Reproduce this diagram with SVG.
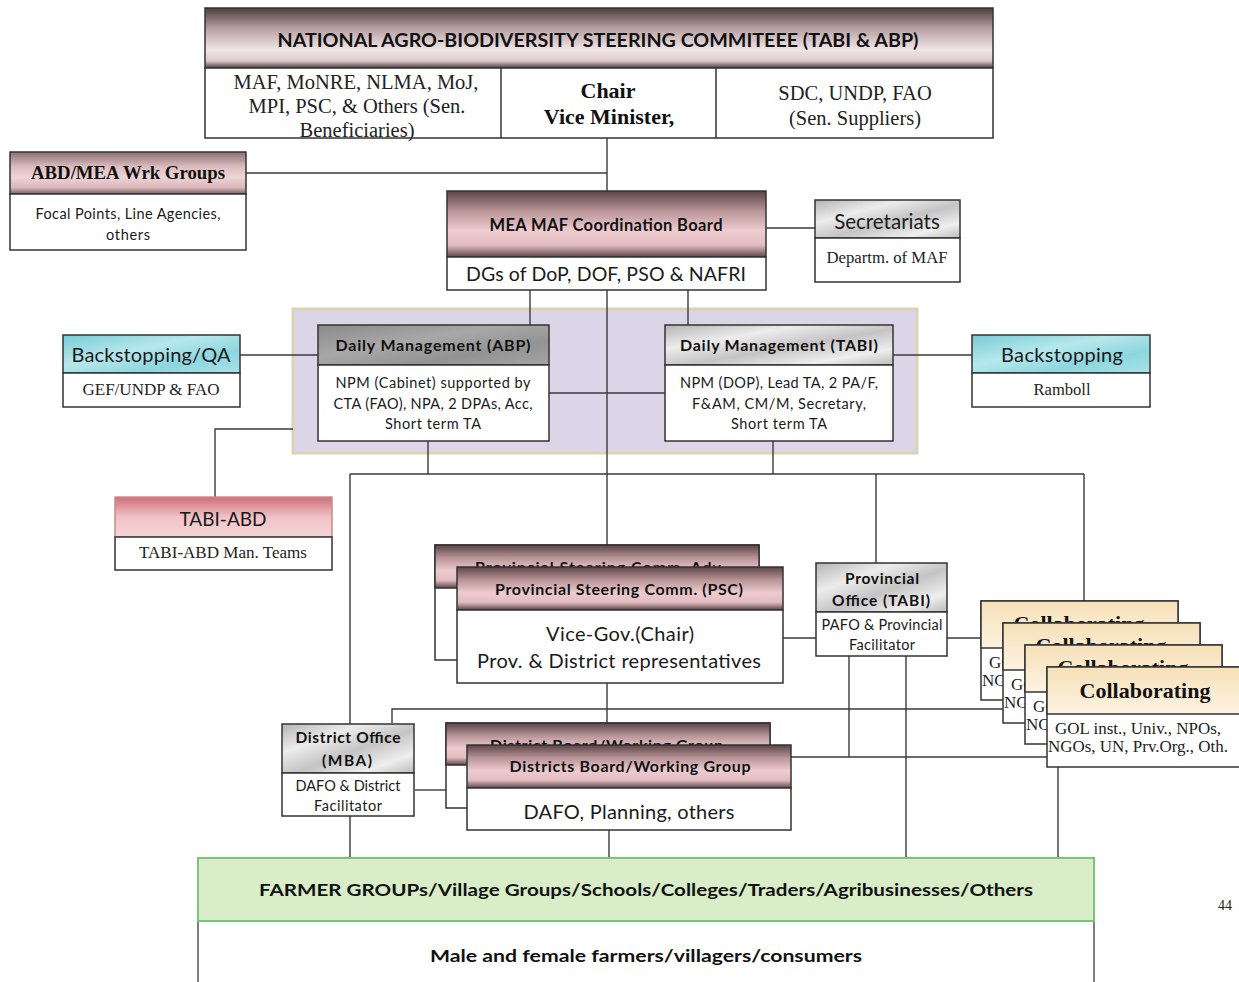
<svg xmlns="http://www.w3.org/2000/svg" width="1239" height="982" viewBox="0 0 1239 982">
<defs>
<linearGradient id="gNat" x1="0" y1="0" x2="0" y2="1">
<stop offset="0" stop-color="#4e3e40"/><stop offset="0.35" stop-color="#b8a2a4"/><stop offset="0.7" stop-color="#f2e6e8"/><stop offset="0.88" stop-color="#dccacc"/><stop offset="1" stop-color="#4e3e40"/>
</linearGradient>
<linearGradient id="gPink" x1="0" y1="0" x2="0" y2="1">
<stop offset="0" stop-color="#5c4446"/><stop offset="0.3" stop-color="#b89496"/><stop offset="0.6" stop-color="#edcbcf"/><stop offset="0.82" stop-color="#e2bcc0"/><stop offset="1" stop-color="#5e4648"/>
</linearGradient>
<linearGradient id="gPinkL" x1="0" y1="0" x2="0" y2="1">
<stop offset="0" stop-color="#8a7072"/><stop offset="0.35" stop-color="#dcbcbf"/><stop offset="0.6" stop-color="#efd3d6"/><stop offset="0.85" stop-color="#d9b6b9"/><stop offset="1" stop-color="#7a6264"/>
</linearGradient>
<linearGradient id="gTA" x1="0" y1="0" x2="0" y2="1">
<stop offset="0" stop-color="#cf6e78"/><stop offset="0.5" stop-color="#efc2c6"/><stop offset="1" stop-color="#f4d6d8"/>
</linearGradient>
<linearGradient id="gMarble" x1="0" y1="0" x2="1" y2="1">
<stop offset="0" stop-color="#b4b4b4"/><stop offset="0.3" stop-color="#ececec"/><stop offset="0.55" stop-color="#c4c4c4"/><stop offset="0.8" stop-color="#eeeeee"/><stop offset="1" stop-color="#bcbcbc"/>
</linearGradient>
<linearGradient id="gMarbleD" x1="0" y1="0" x2="1" y2="1">
<stop offset="0" stop-color="#8a8a8a"/><stop offset="0.4" stop-color="#a8a8a8"/><stop offset="0.7" stop-color="#939393"/><stop offset="1" stop-color="#a4a4a4"/>
</linearGradient>
<linearGradient id="gCyan" x1="0" y1="0" x2="1" y2="1">
<stop offset="0" stop-color="#78ccd6"/><stop offset="0.4" stop-color="#b6e8ec"/><stop offset="0.7" stop-color="#8ed6de"/><stop offset="1" stop-color="#a8e2e8"/>
</linearGradient>
<linearGradient id="gCol" x1="0" y1="0" x2="0" y2="1">
<stop offset="0" stop-color="#f6e0b8"/><stop offset="1" stop-color="#fdf3e2"/>
</linearGradient>
<clipPath id="cpC1"><rect x="981" y="601" width="197" height="22"/><rect x="981" y="601" width="22" height="99"/></clipPath>
<clipPath id="cpC2"><rect x="1003" y="623" width="197" height="22"/><rect x="1003" y="623" width="22" height="100"/></clipPath>
<clipPath id="cpC3"><rect x="1025" y="645" width="197" height="22"/><rect x="1025" y="645" width="22" height="99"/></clipPath>
<clipPath id="cpPSC"><rect x="435" y="545" width="324" height="22"/></clipPath>
<clipPath id="cpDB"><rect x="446" y="723" width="324" height="22"/></clipPath>
</defs>
<style>
.b{stroke:#333;stroke-width:1.5}
.w{fill:#fff;stroke:#333;stroke-width:1.5}
.c line,.c polyline{stroke:#3a3a3a;stroke-width:1.4;fill:none}
.s{font-family:Lato,"Liberation Sans",sans-serif;fill:#1a1a1a;text-anchor:middle}
.sb{font-family:Lato,"Liberation Sans",sans-serif;font-weight:bold;fill:#111;text-anchor:middle}
.r{font-family:"Liberation Serif",serif;fill:#222;text-anchor:middle}
.rb{font-family:"Liberation Serif",serif;font-weight:bold;fill:#111;text-anchor:middle}
.cl{font-family:"Liberation Serif",serif;fill:#222;font-size:16px}
</style>

<rect id="zone" x="293" y="309" width="624" height="144" fill="#dcd5e7" stroke="#d9d4b4" stroke-width="3"/>

<g id="connectors" class="c">
<line x1="607" y1="138" x2="607" y2="545"/>
<line x1="246" y1="173" x2="607" y2="173"/>
<line x1="766" y1="228" x2="815" y2="228"/>
<line x1="530" y1="290" x2="530" y2="325"/>
<line x1="688" y1="290" x2="688" y2="325"/>
<line x1="240" y1="355" x2="318" y2="355"/>
<line x1="893" y1="355" x2="972" y2="355"/>
<line x1="549" y1="393" x2="665" y2="393"/>
<polyline points="293,429 215,429 215,497"/>
<line x1="428" y1="441" x2="428" y2="474"/>
<line x1="773" y1="441" x2="773" y2="474"/>
<line x1="350" y1="474" x2="1084" y2="474"/>
<line x1="350" y1="474" x2="350" y2="858"/>
<line x1="876" y1="474" x2="876" y2="563"/>
<line x1="1084" y1="474" x2="1084" y2="601"/>
<line x1="783" y1="638" x2="816" y2="638"/>
<line x1="947" y1="638" x2="981" y2="638"/>
<line x1="607" y1="683" x2="607" y2="723"/>
<polyline points="392,723 392,709 1010,709"/>
<line x1="849" y1="656" x2="849" y2="757"/>
<line x1="906" y1="656" x2="906" y2="858"/>
<line x1="791" y1="757" x2="1047" y2="757"/>
<line x1="415" y1="790" x2="446" y2="790"/>
<line x1="609" y1="830" x2="609" y2="858"/>
<line x1="1058" y1="767" x2="1058" y2="858"/>
</g>

<g id="national">
<rect x="205" y="8" width="788" height="60" fill="url(#gNat)" class="b"/>
<text x="598" y="47" class="sb" font-size="18" textLength="641" lengthAdjust="spacingAndGlyphs">NATIONAL AGRO-BIODIVERSITY STEERING COMMITEEE (TABI &amp; ABP)</text>
<rect x="205" y="68" width="788" height="70" fill="#fff"/>
<text x="356" y="89" class="r" font-size="20.5">MAF, MoNRE, NLMA, MoJ,</text>
<text x="357" y="113" class="r" font-size="20.5">MPI, PSC, &amp; Others (Sen.</text>
<text x="357" y="137" class="r" font-size="20.5">Beneficiaries)</text>
<text x="608" y="98" class="rb" font-size="22">Chair</text>
<text x="609" y="124" class="rb" font-size="22">Vice Minister,</text>
<text x="855" y="100" class="r" font-size="20.5">SDC, UNDP, FAO</text>
<text x="855" y="125" class="r" font-size="20.5">(Sen. Suppliers)</text>
<rect x="205" y="68" width="788" height="70" fill="none" class="b"/>
<line x1="501" y1="68" x2="501" y2="138" class="b"/>
<line x1="716" y1="68" x2="716" y2="138" class="b"/>
</g>

<g id="abdmea">
<rect x="10" y="152" width="236" height="42" fill="url(#gPinkL)" class="b"/>
<text x="128" y="179" class="rb" font-size="18" textLength="194" lengthAdjust="spacingAndGlyphs">ABD/MEA Wrk Groups</text>
<rect x="10" y="194" width="236" height="56" class="w"/>
<text x="128" y="219" class="s" font-size="14.5" textLength="185">Focal Points, Line Agencies,</text>
<text x="128" y="240" class="s" font-size="14.5" textLength="44">others</text>
</g>

<g id="meamaf">
<rect x="447" y="191" width="319" height="66" fill="url(#gPink)" class="b"/>
<text x="606" y="231" class="sb" font-size="16.5" textLength="233">MEA MAF Coordination Board</text>
<rect x="447" y="257" width="319" height="33" class="w"/>
<text x="606" y="281" class="s" font-size="19.5" textLength="280">DGs of DoP, DOF, PSO &amp; NAFRI</text>
</g>

<g id="secretariats">
<rect x="815" y="200" width="145" height="38" fill="url(#gMarble)" class="b"/>
<text x="887" y="229" class="s" font-size="20.5">Secretariats</text>
<rect x="815" y="238" width="145" height="44" class="w"/>
<text x="887" y="263" class="r" font-size="16" textLength="121" lengthAdjust="spacingAndGlyphs">Departm. of MAF</text>
</g>

<g id="dm-abp">
<rect x="318" y="325" width="231" height="40" fill="url(#gMarbleD)" class="b"/>
<text x="433" y="351" class="sb" font-size="16" textLength="195">Daily Management (ABP)</text>
<rect x="318" y="365" width="231" height="76" class="w"/>
<text x="433" y="388" class="s" font-size="14.5" textLength="195">NPM (Cabinet) supported by</text>
<text x="433" y="409" class="s" font-size="14.5" textLength="199">CTA (FAO), NPA, 2 DPAs, Acc,</text>
<text x="433" y="429" class="s" font-size="14.5" textLength="96">Short term TA</text>
</g>

<g id="dm-tabi">
<rect x="665" y="325" width="228" height="40" fill="url(#gMarble)" class="b"/>
<text x="779" y="351" class="sb" font-size="16" textLength="198">Daily Management (TABI)</text>
<rect x="665" y="365" width="228" height="76" class="w"/>
<text x="779" y="388" class="s" font-size="14.5" textLength="198">NPM (DOP), Lead TA, 2 PA/F,</text>
<text x="779" y="409" class="s" font-size="14.5" textLength="174">F&amp;AM, CM/M, Secretary,</text>
<text x="779" y="429" class="s" font-size="14.5" textLength="96">Short term TA</text>
</g>

<g id="backstop-qa">
<rect x="63" y="335" width="177" height="38" fill="url(#gCyan)" class="b"/>
<text x="151" y="362" class="s" font-size="20" textLength="159">Backstopping/QA</text>
<rect x="63" y="373" width="177" height="34" class="w"/>
<text x="151" y="395" class="r" font-size="16" textLength="137" lengthAdjust="spacingAndGlyphs">GEF/UNDP &amp; FAO</text>
</g>

<g id="backstop">
<rect x="972" y="335" width="178" height="38" fill="url(#gCyan)" class="b"/>
<text x="1062" y="362" class="s" font-size="20" textLength="122">Backstopping</text>
<rect x="972" y="373" width="178" height="34" class="w"/>
<text x="1062" y="395" class="r" font-size="16" textLength="57" lengthAdjust="spacingAndGlyphs">Ramboll</text>
</g>

<g id="tabi-abd">
<rect x="115" y="497" width="217" height="40" fill="url(#gTA)" stroke="#c98a90" stroke-width="1.5"/>
<text x="223" y="526" class="s" font-size="19">TABI-ABD</text>
<rect x="115" y="537" width="217" height="33" class="w"/>
<text x="223" y="558" class="r" font-size="16" textLength="168" lengthAdjust="spacingAndGlyphs">TABI-ABD Man. Teams</text>
</g>

<g id="psc-adv">
<rect x="435" y="545" width="324" height="115" class="w"/>
<rect x="435" y="545" width="324" height="43" fill="url(#gPink)" class="b"/>
<text x="475" y="573" class="sb" font-size="16" style="text-anchor:start" clip-path="url(#cpPSC)" textLength="246">Provincial Steering Comm. Adv</text>
</g>

<g id="psc">
<rect x="457" y="567" width="326" height="43" fill="url(#gPink)" class="b"/>
<text x="619" y="595" class="sb" font-size="16" textLength="248">Provincial Steering Comm. (PSC)</text>
<rect x="457" y="610" width="326" height="73" class="w"/>
<text x="620" y="641" class="s" font-size="20" textLength="148">Vice-Gov.(Chair)</text>
<text x="619" y="668" class="s" font-size="20" textLength="284">Prov. &amp; District representatives</text>
</g>

<g id="prov-office">
<rect x="816" y="563" width="131" height="49" fill="url(#gMarble)" class="b"/>
<text x="882" y="584" class="sb" font-size="15.5" textLength="74">Provincial</text>
<text x="881" y="606" class="sb" font-size="15.5" textLength="98">Office (TABI)</text>
<rect x="816" y="612" width="131" height="44" class="w"/>
<text x="882" y="630" class="s" font-size="14.5" textLength="121">PAFO &amp; Provincial</text>
<text x="882" y="650" class="s" font-size="14.5" textLength="66">Facilitator</text>
</g>

<g id="collab-1">
<rect x="981" y="601" width="197" height="99" class="w"/>
<rect x="981" y="601" width="197" height="47" fill="url(#gCol)" class="b"/>
<g clip-path="url(#cpC1)">
<text x="1079" y="631" class="rb" font-size="22">Collaborating</text>
<text x="989" y="668" class="cl" textLength="166" lengthAdjust="spacingAndGlyphs">GOL inst., Univ., NPOs,</text>
<text x="982" y="686" class="cl" textLength="180" lengthAdjust="spacingAndGlyphs">NGOs, UN, Prv.Org., Oth.</text>
</g>
</g>
<g id="collab-2">
<rect x="1003" y="623" width="197" height="100" class="w"/>
<rect x="1003" y="623" width="197" height="47" fill="url(#gCol)" class="b"/>
<g clip-path="url(#cpC2)">
<text x="1101" y="653" class="rb" font-size="22">Collaborating</text>
<text x="1011" y="690" class="cl" textLength="166" lengthAdjust="spacingAndGlyphs">GOL inst., Univ., NPOs,</text>
<text x="1004" y="708" class="cl" textLength="180" lengthAdjust="spacingAndGlyphs">NGOs, UN, Prv.Org., Oth.</text>
</g>
</g>
<g id="collab-3">
<rect x="1025" y="645" width="197" height="99" class="w"/>
<rect x="1025" y="645" width="197" height="47" fill="url(#gCol)" class="b"/>
<g clip-path="url(#cpC3)">
<text x="1123" y="675" class="rb" font-size="22">Collaborating</text>
<text x="1033" y="712" class="cl" textLength="166" lengthAdjust="spacingAndGlyphs">GOL inst., Univ., NPOs,</text>
<text x="1026" y="730" class="cl" textLength="180" lengthAdjust="spacingAndGlyphs">NGOs, UN, Prv.Org., Oth.</text>
</g>
</g>
<g id="collab-4">
<rect x="1047" y="667" width="200" height="100" class="w"/>
<rect x="1047" y="667" width="200" height="47" fill="url(#gCol)" class="b"/>
<text x="1145" y="698" class="rb" font-size="22">Collaborating</text>
<text x="1055" y="734" class="cl" textLength="166" lengthAdjust="spacingAndGlyphs">GOL inst., Univ., NPOs,</text>
<text x="1048" y="752" class="cl" textLength="180" lengthAdjust="spacingAndGlyphs">NGOs, UN, Prv.Org., Oth.</text>
</g>

<g id="district-office">
<rect x="282" y="724" width="132" height="49" fill="url(#gMarble)" class="b"/>
<text x="348" y="743" class="sb" font-size="15.5" textLength="105">District Office</text>
<text x="347" y="766" class="sb" font-size="15.5" textLength="50">(MBA)</text>
<rect x="282" y="773" width="132" height="43" class="w"/>
<text x="348" y="791" class="s" font-size="14.5" textLength="105">DAFO &amp; District</text>
<text x="348" y="811" class="s" font-size="14.5" textLength="68">Facilitator</text>
</g>

<g id="db-back">
<rect x="446" y="723" width="324" height="85" class="w"/>
<rect x="446" y="723" width="324" height="42" fill="url(#gPink)" class="b"/>
<text x="490" y="751" class="sb" font-size="16" style="text-anchor:start" clip-path="url(#cpDB)" textLength="233">District Board/Working Group</text>
</g>

<g id="db">
<rect x="467" y="745" width="324" height="43" fill="url(#gPink)" class="b"/>
<text x="630" y="772" class="sb" font-size="16" textLength="241">Districts Board/Working Group</text>
<rect x="467" y="788" width="324" height="42" class="w"/>
<text x="629" y="819" class="s" font-size="20" textLength="211">DAFO, Planning, others</text>
</g>

<g id="farmers">
<rect x="198" y="858" width="896" height="63" fill="#d8edc8" stroke="#7cc47c" stroke-width="2"/>
<text x="646" y="896" class="sb" font-size="17.5" textLength="774" lengthAdjust="spacingAndGlyphs">FARMER GROUPs/Village Groups/Schools/Colleges/Traders/Agribusinesses/Others</text>
<path d="M198,922 V990 M1094,922 V990" stroke="#555" stroke-width="1.5" fill="none"/>
<text x="646" y="962" class="sb" font-size="17.5" textLength="432" lengthAdjust="spacingAndGlyphs">Male and female farmers/villagers/consumers</text>
</g>

<text x="1225" y="910" class="r" font-size="14" fill="#555">44</text>
</svg>
